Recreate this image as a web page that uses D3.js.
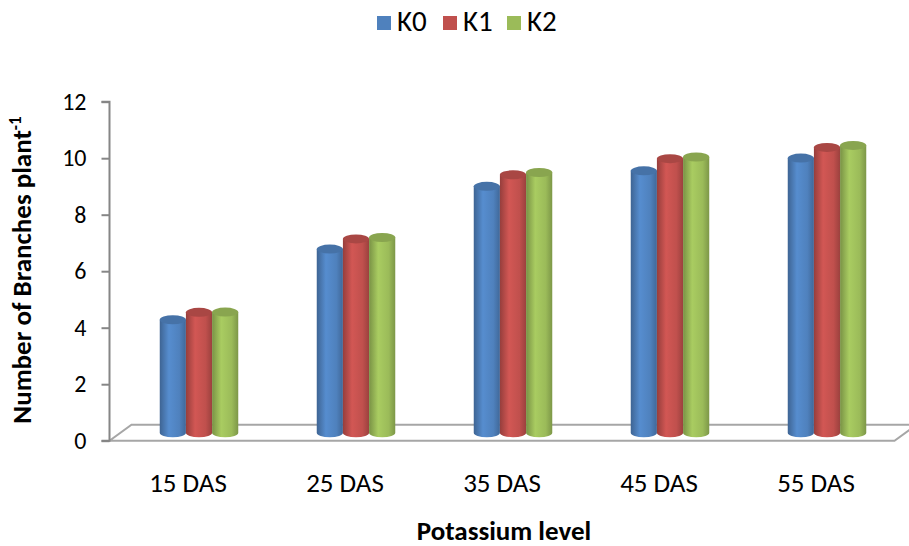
<!DOCTYPE html>
<html>
<head>
<meta charset="utf-8">
<script src="https://cdn.jsdelivr.net/npm/d3@7"></script>
<style>
  body { margin: 0; background: #fff; }
  text { font-family: Carlito, Lato, sans-serif; fill: #000; }
</style>
</head>
<body>
<div id="chart"></div>
<script>
const categories = ["15 DAS", "25 DAS", "35 DAS", "45 DAS", "55 DAS"];
const seriesNames = ["K0", "K1", "K2"];
const k0 = [4.0, 6.5, 8.72, 9.27, 9.72];
const k1 = [4.26, 6.86, 9.13, 9.7, 10.1];
const k2 = [4.27, 6.91, 9.21, 9.76, 10.17];
const yTicks = [0, 2, 4, 6, 8, 10, 12];

const series = [k0, k1, k2];
const colors = ["#4f81bd", "#c0504d", "#9bbb59"];

const width = 909, height = 546;
// depth of the 3d floor
const depthX = 22, depthY = -16;

const svg = d3.select("#chart").append("svg")
  .attr("width", width)
  .attr("height", height);

const x = d3.scaleBand()
  .domain(categories)
  .range([109.5, 894.5])
  .paddingInner(0.5)
  .paddingOuter(0.25);

const xs = d3.scaleBand()
  .domain(seriesNames)
  .range([0, x.bandwidth()]);

const y = d3.scaleLinear()
  .domain([0, 12])
  .range([440.7, 101.7]);

// gradients for the cylinders
const defs = svg.append("defs");
colors.forEach(function(c, i) {
  const base = d3.color(c);
  const g = defs.append("linearGradient")
    .attr("id", "grad" + i)
    .attr("x1", "0%").attr("x2", "100%").attr("y1", "0%").attr("y2", "0%");
  g.append("stop").attr("offset", "0%").attr("stop-color", base.darker(0.7));
  g.append("stop").attr("offset", "35%").attr("stop-color", base.brighter(0.25));
  g.append("stop").attr("offset", "75%").attr("stop-color", base);
  g.append("stop").attr("offset", "100%").attr("stop-color", base.darker(0.6));
});

// floor
const x0 = x.range()[0], x1 = x.range()[1], y0 = y(0);
svg.append("path")
  .attr("d", "M" + x0 + "," + y0 + "L" + x1 + "," + y0 +
    "L" + (x1 + depthX) + "," + (y0 + depthY) +
    "L" + (x0 + depthX) + "," + (y0 + depthY) + "Z")
  .attr("fill", "none")
  .attr("stroke", "#a6a6a6")
  .attr("stroke-width", 2);

// y axis
const yAxis = d3.axisLeft(y)
  .tickValues(yTicks)
  .tickSize(8)
  .tickPadding(15)
  .tickFormat(d3.format("d"));

const ya = svg.append("g")
  .attr("transform", "translate(" + x0 + ",0)")
  .call(yAxis);
ya.selectAll("path, line").attr("stroke", "#868686").attr("stroke-width", 2);
ya.select(".domain").attr("d", "M-8," + y(12) + "H0V" + y(0) + "H-8");
ya.selectAll("text")
  .style("font-family", "Carlito, Lato, sans-serif")
  .style("font-size", "24px")
  .attr("fill", "#000");

// cylinders
const ry = 4.5;
series.forEach(function(vals, si) {
  const g = svg.append("g");
  categories.forEach(function(cat, ci) {
    const left = x(cat) + xs(seriesNames[si]) + depthX / 2;
    const w = xs.bandwidth();
    const cx = left + w / 2;
    const rx = w / 2;
    const base = y(0) + depthY / 2;
    const top = y(vals[ci]) + depthY / 2;
    g.append("path")
      .attr("d", "M" + left + "," + top + "L" + left + "," + base +
        "A" + rx + "," + ry + " 0 0 0 " + (left + w) + "," + base +
        "L" + (left + w) + "," + top + "Z")
      .attr("fill", "url(#grad" + si + ")");
    g.append("ellipse")
      .attr("cx", cx)
      .attr("cy", top)
      .attr("rx", rx)
      .attr("ry", ry)
      .attr("fill", d3.color(colors[si]).darker(0.35));
  });
});

// x labels
svg.append("g").selectAll("text")
  .data(categories)
  .enter()
  .append("text")
  .attr("x", d => x(d) + x.bandwidth() / 2)
  .attr("y", 492)
  .attr("text-anchor", "middle")
  .style("font-size", "27px")
  .text(d => d);

// axis titles
svg.append("text")
  .attr("x", 504)
  .attr("y", 540)
  .attr("text-anchor", "middle")
  .style("font-size", "27px")
  .style("font-weight", "bold")
  .text("Potassium level");

const yt = svg.append("text")
  .attr("transform", "translate(31,270) rotate(-90)")
  .attr("text-anchor", "middle")
  .style("font-size", "27px")
  .style("font-weight", "bold");
yt.append("tspan").text("Number of Branches plant");
yt.append("tspan").attr("dy", -10).style("font-size", "17px").text("-1");

// legend
const legendX = [377, 443, 507];
const legend = svg.append("g");
seriesNames.forEach(function(name, i) {
  legend.append("rect")
    .attr("x", legendX[i])
    .attr("y", 16)
    .attr("width", 14)
    .attr("height", 14)
    .attr("fill", colors[i]);
  legend.append("text")
    .attr("x", legendX[i] + 20)
    .attr("y", 31)
    .style("font-size", "29px")
    .text(name);
});
</script>
</body>
</html>
